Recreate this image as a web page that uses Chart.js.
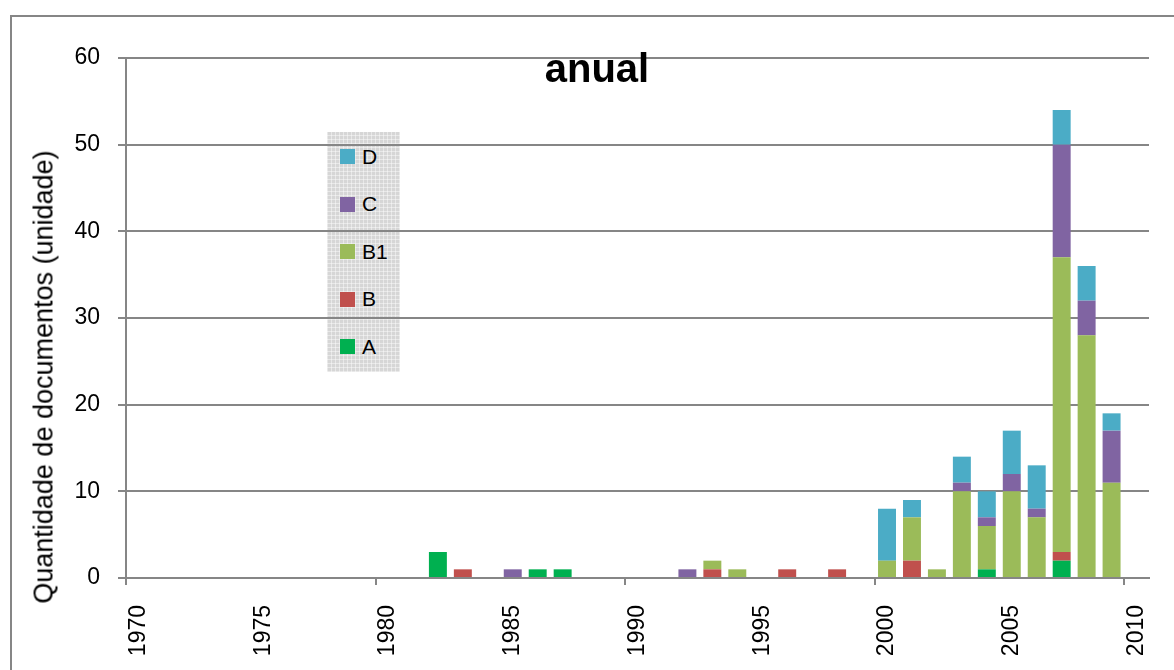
<!DOCTYPE html>
<html>
<head>
<meta charset="utf-8">
<script src="https://cdn.jsdelivr.net/npm/chart.js@4.4.1/dist/chart.umd.min.js"></script>
<style>
    body { margin: 0; background: #fff; overflow: hidden; }
    #wrap { position: relative; width: 1174px; height: 670px; font-family: 'Liberation Sans', Arial, sans-serif; color: #000; }
    #frame { position: absolute; left: 10px; top: 15px; width: 1300px; height: 800px; border-top: 2px solid #868686; border-left: 2px solid #868686; }
    #legend {
        position: absolute; left: 327px; top: 132px; width: 73px; height: 240px;
        background-color: #d6d6d6;
        background-image:
            repeating-linear-gradient(0deg, rgba(255,255,255,0.45) 0 1px, transparent 1px 4px),
            repeating-linear-gradient(90deg, rgba(255,255,255,0.45) 0 1px, transparent 1px 4px);
        padding-top: 1px; box-sizing: border-box;
    }
    #legend .item { height: 47.5px; display: flex; align-items: center; font-size: 21px; }
    #legend .box { width: 15px; height: 15px; margin-left: 13px; margin-right: 7px; }
    #chart { position: absolute; left: 0; top: 0; }
    #title { position: absolute; left: 597px; top: 48px; transform: translateX(-50%); font-size: 40px; line-height: 40px; font-weight: bold; white-space: nowrap; }
    #ytitle { position: absolute; left: 44px; top: 377px; transform: translate(-50%, -50%) rotate(-90deg); font-size: 27px; white-space: nowrap; }
</style>
</head>
<body>
<div id="wrap">
    <div id="frame"></div>
    <div id="legend"></div>
    <canvas id="chart" width="1174" height="670"></canvas>
    <div id="title">anual</div>
    <div id="ytitle">Quantidade de documentos (unidade)</div>
</div>
<script>
// x axis runs 1970..2010, one slot per year
const allYears = [];
for (let y = 1970; y <= 2010; y++) allYears.push(String(y));

// years that have documents
const years = [1982, 1983, 1985, 1986, 1987, 1992, 1993, 1994, 1996, 1998,
               2000, 2001, 2002, 2003, 2004, 2005, 2006, 2007, 2008, 2009];

const serieA  = [3, 0, 0, 1, 1, 0, 0, 0, 0, 0,  0, 0, 0,  0, 1,  0, 0,  2,  0,  0];
const serieB  = [0, 1, 0, 0, 0, 0, 1, 0, 1, 1,  0, 2, 0,  0, 0,  0, 0,  1,  0,  0];
const serieB1 = [0, 0, 0, 0, 0, 0, 1, 1, 0, 0,  2, 5, 1, 10, 5, 10, 7, 34, 28, 11];
const serieC  = [0, 0, 1, 0, 0, 1, 0, 0, 0, 0,  0, 0, 0,  1, 1,  2, 1, 13,  4,  6];
const serieD  = [0, 0, 0, 0, 0, 0, 0, 0, 0, 0,  6, 2, 0,  3, 3,  5, 5,  4,  4,  2];

const seriesNames  = ['A', 'B', 'B1', 'C', 'D'];
const seriesColors = ['#00B050', '#C0504D', '#9BBB59', '#8064A2', '#4BACC6'];
const seriesValues = [serieA, serieB, serieB1, serieC, serieD];

const gridGray = '#868686';
const fontFamily = "'Liberation Sans', Arial, sans-serif";

const datasets = seriesNames.map((name, s) => ({
    label: name,
    backgroundColor: seriesColors[s],
    borderWidth: 0,
    data: years.map((yr, i) => ({ x: String(yr), y: seriesValues[s][i] }))
}));

const chart = new Chart(document.getElementById('chart').getContext('2d'), {
    type: 'bar',
    data: { labels: allYears, datasets: datasets },
    options: {
        responsive: false,
        animation: false,
        devicePixelRatio: 1,
        layout: { padding: { left: 0, right: 25, top: 58, bottom: 0 } },
        plugins: {
            legend: { display: false },
            tooltip: { enabled: false },
            title: { display: false }
        },
        datasets: { bar: { categoryPercentage: 0.8, barPercentage: 0.9 } },
        scales: {
            x: {
                stacked: true,
                offset: true,
                afterFit: (scale) => {
                    scale.height = 92;
                    scale.paddingLeft = 0;
                    scale.paddingRight = 0;
                },
                border: { display: true, color: gridGray, width: 2 },
                grid: {
                    display: true,
                    drawOnChartArea: false,
                    offset: true,
                    tickLength: 7,
                    lineWidth: 2,
                    tickColor: (ctx) => (ctx.tick && ctx.index % 10 === 0) ? gridGray : 'rgba(0,0,0,0)'
                },
                ticks: {
                    autoSkip: false,
                    minRotation: 90,
                    maxRotation: 90,
                    padding: 20,
                    color: '#000',
                    font: { family: fontFamily, size: 23 },
                    callback: function (value, index) {
                        const lbl = this.getLabelForValue(value);
                        return Number(lbl) % 5 === 0 ? lbl : '';
                    }
                }
            },
            y: {
                stacked: true,
                min: 0,
                max: 60,
                afterFit: (scale) => { scale.width = 126; },
                border: { display: true, color: gridGray, width: 2 },
                grid: { color: gridGray, lineWidth: 2, tickLength: 8 },
                ticks: {
                    stepSize: 10,
                    padding: 18,
                    color: '#000',
                    font: { family: fontFamily, size: 23 }
                }
            }
        }
    }
});

// legend box, top item = last series
const legendEl = document.getElementById('legend');
chart.data.datasets.slice().reverse().forEach(ds => {
    const row = document.createElement('div');
    row.className = 'item';
    const box = document.createElement('span');
    box.className = 'box';
    box.style.background = ds.backgroundColor;
    const txt = document.createElement('span');
    txt.textContent = ds.label;
    row.appendChild(box);
    row.appendChild(txt);
    legendEl.appendChild(row);
});
</script>
</body>
</html>
